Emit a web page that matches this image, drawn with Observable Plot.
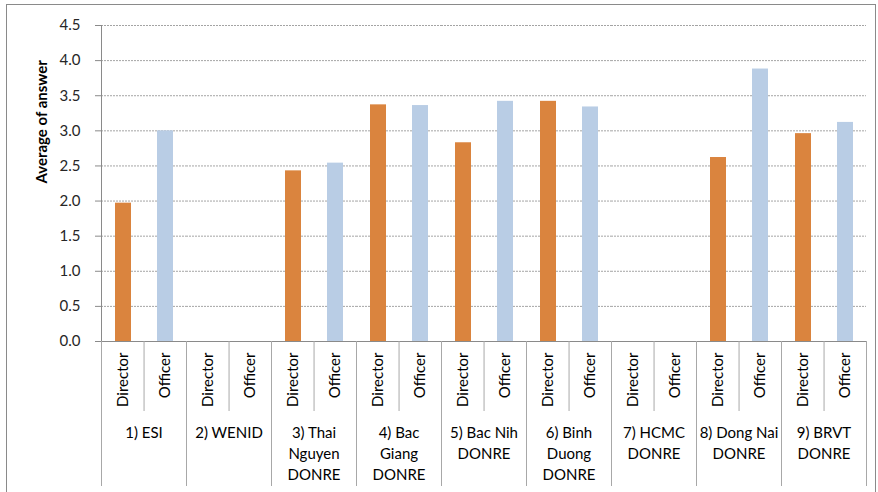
<!DOCTYPE html>
<html>
<head>
<meta charset="utf-8">
<script src="https://cdn.jsdelivr.net/npm/d3@7"></script>
<script src="https://cdn.jsdelivr.net/npm/@observablehq/plot@0.6"></script>
<style>
  body { margin: 0; background: #fff; }
  #wrap { position: relative; width: 878px; height: 492px; overflow: hidden; }
  #wrap svg { display: block; }
  #border { position: absolute; left: 6px; top: 4px; width: 870px; height: 520px;
            border: 1px solid #8a8a8a; box-sizing: border-box; pointer-events: none; }
</style>
</head>
<body>
<div id="wrap"><div id="border"></div></div>
<script>
// Survey groups (respondent organisations)
const groups = [
  "1) ESI", "2) WENID", "3) Thai Nguyen DONRE", "4) Bac Giang DONRE",
  "5) Bac Nih DONRE", "6) Binh Duong DONRE", "7) HCMC DONRE",
  "8) Dong Nai DONRE", "9) BRVT DONRE"
];
// Category labels as printed under the axis (wrapped lines)
const groupLabels = [
  "1) ESI", "2) WENID", "3) Thai\nNguyen\nDONRE", "4) Bac\nGiang\nDONRE",
  "5) Bac Nih\nDONRE", "6) Binh\nDuong\nDONRE", "7) HCMC\nDONRE",
  "8) Dong Nai\nDONRE", "9) BRVT\nDONRE"
];
const roles = ["Director", "Officer"];
// Average of answer per group (null = no responses)
const director = [1.97, null, 2.43, 3.37, 2.83, 3.42, null, 2.62, 2.96];
const officer  = [3.00, null, 2.54, 3.36, 3.42, 3.34, null, 3.88, 3.12];
const yTicks = [0, 0.5, 1.0, 1.5, 2.0, 2.5, 3.0, 3.5, 4.0, 4.5];

const colors = ["#da843e", "#b9cde5"];
const lineColor = "#8a8a8a";
const sepColor = "#a8a8a8";

const W = 878, H = 492;
const mL = 97, mR = 9, mT = 25, mB = 151;
const innerH = H - mT - mB;
const facetW = (W - mL - mR) / groups.length;
const step = facetW / roles.length;

const rows = groups.flatMap((g, i) => [
  {group: g, role: "Director", value: director[i]},
  {group: g, role: "Officer", value: officer[i]}
]);
const labelOf = new Map(groups.map((g, i) => [g, groupLabels[i]]));

const chart = Plot.plot({
  width: W, height: H,
  marginLeft: mL, marginRight: mR, marginTop: mT, marginBottom: mB,
  style: {fontFamily: "Lato, 'Open Sans', sans-serif", fontSize: "15px", color: "#262626", background: "white"},
  fx: {domain: groups, padding: 0, label: null, axis: null},
  x: {domain: roles, padding: 0, label: null, axis: null},
  y: {domain: [0, 4.5], label: null, axis: null},
  color: {domain: roles, range: colors},
  marks: [
    Plot.gridY(yTicks.filter(d => d > 0), {stroke: "#a4a4a4", strokeOpacity: 1, strokeDasharray: "2,1"}),
    Plot.barY(rows, {fx: "group", x: "role", y: "value", fill: "role", insetLeft: 13, insetRight: 13}),
    Plot.ruleY([0], {stroke: lineColor}),
    // value axis line, continuing down as the first category divider
    Plot.frame({anchor: "left", facetAnchor: "left", stroke: lineColor, insetBottom: -144}),
    // group dividers below the axis
    Plot.frame({anchor: "left", stroke: sepColor, insetTop: innerH, insetBottom: -144}),
    Plot.frame({anchor: "right", facetAnchor: "right", stroke: sepColor, insetTop: innerH, insetBottom: -144}),
    // Director / Officer divider inside each group
    Plot.ruleX(rows.filter(d => d.role === "Officer"), {
      fx: "group", x: "role", dx: -step / 2, stroke: sepColor, insetTop: innerH, insetBottom: -70
    }),
    Plot.axisY(yTicks, {
      anchor: "left", tickSize: 6, tickPadding: 15, stroke: lineColor,
      tickFormat: d => d.toFixed(1), label: null, fill: "#262626"
    }),
    Plot.text(["Average of answer"], {
      frameAnchor: "left", facetAnchor: "left", rotate: -90, dx: -59,
      fontWeight: "bold", fontSize: 15, fill: "#000"
    }),
    Plot.axisX({
      anchor: "bottom", tickSize: 0, tickPadding: 11, tickRotate: -90,
      label: null, fill: "#000"
    }),
    Plot.axisFx({
      anchor: "bottom", tickSize: 0, tickPadding: 82, lineHeight: 1.4,
      tickFormat: g => labelOf.get(g), label: null, fill: "#000"
    })
  ]
});

document.getElementById("wrap").prepend(chart);
</script>
</body>
</html>
